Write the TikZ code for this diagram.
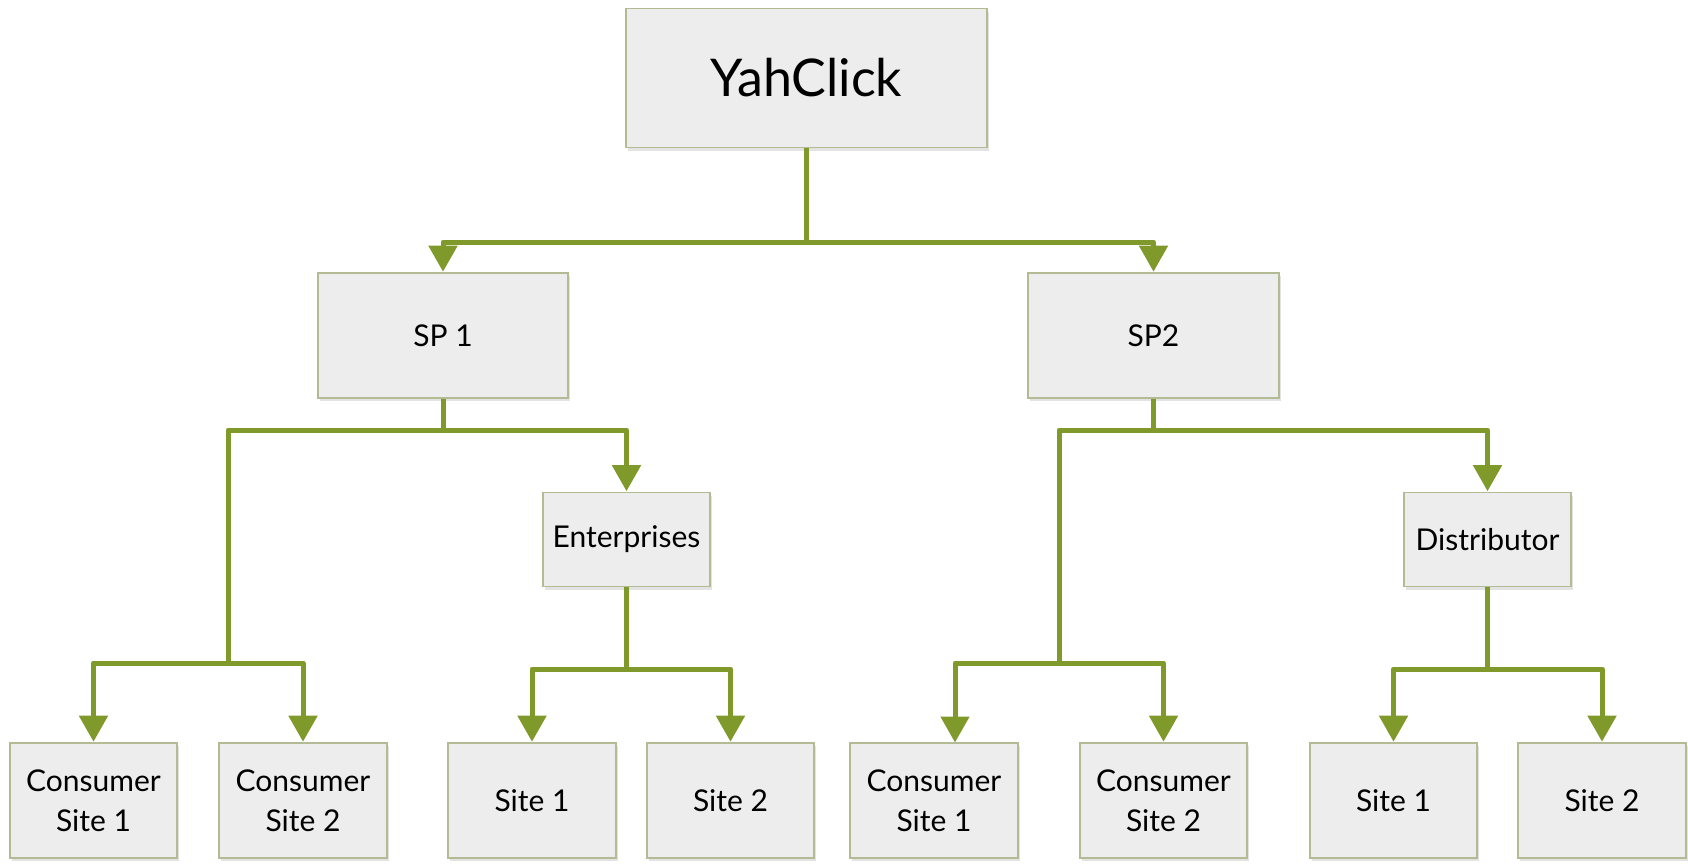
\documentclass[tikz,border=0pt]{standalone}
\usepackage{fontspec}
\setmainfont{Lato}
\usetikzlibrary{arrows.meta,shadows}
\definecolor{lineg}{HTML}{7F992B}
\definecolor{boxfill}{HTML}{EDEDED}
\definecolor{boxline}{HTML}{B3BB95}
\tikzset{
  box/.style={draw=boxline, line width=1.6pt, fill=boxfill, inner sep=2pt,
    align=center, font=\fontsize{30}{40}\selectfont,
    drop shadow={opacity=0.22, shadow xshift=2pt, shadow yshift=-3pt}},
  conn/.style={draw=lineg, line width=5pt, line join=round},
  arr/.style={conn, -{Triangle[width=28pt,length=26pt]}, shorten >=0.5pt}
}
\begin{document}
\begin{tikzpicture}[x=1pt,y=-1pt]
\useasboundingbox (0,0) rectangle (1688,863);
% nodes
\node[box, minimum width=361pt, minimum height=139pt, font=\fontsize{52}{60}\selectfont] (Y) at (806.5,78) {YahClick};
\node[box, minimum width=250pt, minimum height=125pt] (SPa) at (443,335.5) {SP 1};
\node[box, minimum width=251pt, minimum height=125pt] (SPb) at (1153.5,335.5) {SP2};
\node[box, minimum width=167pt, minimum height=94pt] (Ent) at (626.5,539.5) {Enterprises};
\node[box, minimum width=167pt, minimum height=94pt] (Dis) at (1487.5,539.5) {Distributor};
\node[box, minimum width=167pt, minimum height=115pt] (ca) at (93.5,800.5) {Consumer\\Site 1};
\node[box, minimum width=168pt, minimum height=115pt] (cb) at (303,800.5) {Consumer\\Site 2};
\node[box, minimum width=168pt, minimum height=115pt] (sa) at (532,800.5) {Site 1};
\node[box, minimum width=167pt, minimum height=115pt] (sb) at (730.5,800.5) {Site 2};
\node[box, minimum width=168pt, minimum height=115pt] (cc) at (934,800.5) {Consumer\\Site 1};
\node[box, minimum width=167pt, minimum height=115pt] (cd) at (1163.5,800.5) {Consumer\\Site 2};
\node[box, minimum width=167pt, minimum height=115pt] (sc) at (1393.5,800.5) {Site 1};
\node[box, minimum width=168pt, minimum height=115pt] (sd) at (1602,800.5) {Site 2};
% junctions
\coordinate (j0) at (806.5,242);
\coordinate (j1) at (443,430);
\coordinate (k1) at (228,663);
\coordinate (j2) at (626.5,669);
\coordinate (j3) at (1153.5,430);
\coordinate (k3) at (1059,663);
\coordinate (j4) at (1487.5,669);
\coordinate (ccin) at (955,743);
% connectors
\draw[arr] (Y.south) -- (j0) -| (SPa.north);
\draw[arr] (Y.south) -- (j0) -| (SPb.north);
\draw[arr] (SPa.south) -- (j1) -| (Ent.north);
\draw[arr] (SPa.south) -- (j1) -| (k1) -| (ca.north);
\draw[arr] (k1) -| (cb.north);
\draw[arr] (Ent.south) -- (j2) -| (sa.north);
\draw[arr] (Ent.south) -- (j2) -| (sb.north);
\draw[arr] (SPb.south) -- (j3) -| (Dis.north);
\draw[arr] (SPb.south) -- (j3) -| (k3) -| (ccin);
\draw[arr] (k3) -| (cd.north);
\draw[arr] (Dis.south) -- (j4) -| (sc.north);
\draw[arr] (Dis.south) -- (j4) -| (sd.north);
\end{tikzpicture}
\end{document}
